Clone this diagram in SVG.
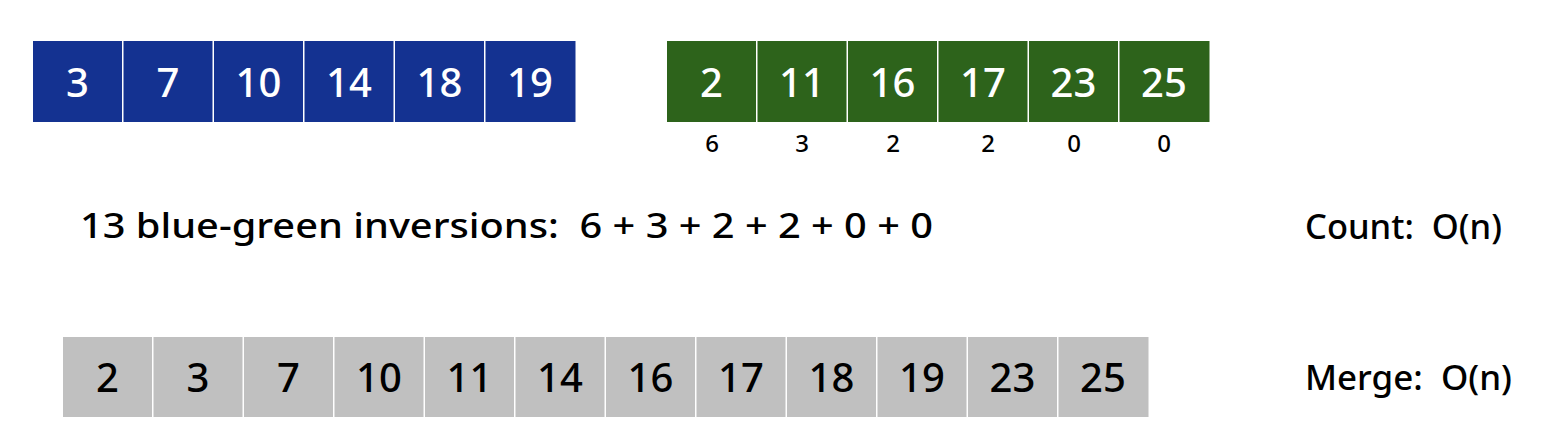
<svg xmlns="http://www.w3.org/2000/svg" width="1548" height="438" viewBox="0 0 1548 438">
<style>
.b{fill:#143291}
.g{fill:#2d631b}
.s{fill:#c0c0c0}
text{font-family:"Noto Sans","DejaVu Sans",sans-serif;font-weight:500}
.w{fill:#fff;font-size:40px;text-anchor:middle}
.k{fill:#000;font-size:40px;text-anchor:middle}
.c{fill:#000;font-size:24px;text-anchor:middle}
.t{fill:#000;font-size:34px}
.r{fill:#000;font-size:34px}
</style>
<rect width="1548" height="438" fill="#fff"/>
<g id="blue">
<rect class="b" x="33" y="41" width="89" height="81"/><text class="w" x="77.5" y="97">3</text>
<rect class="b" x="123.5" y="41" width="89" height="81"/><text class="w" x="168" y="97">7</text>
<rect class="b" x="214" y="41" width="89" height="81"/><text class="w" x="258.5" y="97">10</text>
<rect class="b" x="304.5" y="41" width="89" height="81"/><text class="w" x="349" y="97">14</text>
<rect class="b" x="395" y="41" width="89" height="81"/><text class="w" x="439.5" y="97">18</text>
<rect class="b" x="485.5" y="41" width="90" height="81"/><text class="w" x="530" y="97">19</text>
</g>
<g id="green">
<rect class="g" x="667" y="41" width="89" height="81"/><text class="w" x="711.5" y="97">2</text>
<rect class="g" x="757.5" y="41" width="89" height="81"/><text class="w" x="802" y="97">11</text>
<rect class="g" x="848" y="41" width="89" height="81"/><text class="w" x="892.5" y="97">16</text>
<rect class="g" x="938.5" y="41" width="89" height="81"/><text class="w" x="983" y="97">17</text>
<rect class="g" x="1029" y="41" width="89" height="81"/><text class="w" x="1073.5" y="97">23</text>
<rect class="g" x="1119.5" y="41" width="90" height="81"/><text class="w" x="1164" y="97">25</text>
</g>
<g id="counts">
<text class="c" x="712" y="152">6</text>
<text class="c" x="802" y="152">3</text>
<text class="c" x="893" y="152">2</text>
<text class="c" x="988" y="152">2</text>
<text class="c" x="1074" y="152">0</text>
<text class="c" x="1164" y="152">0</text>
</g>
<g id="inversions">
<text class="t" x="80" y="238" textLength="853" lengthAdjust="spacingAndGlyphs" xml:space="preserve">13 blue-green inversions:  6 + 3 + 2 + 2 + 0 + 0</text>
</g>
<g id="count-label">
<text class="r" x="1305" y="239" textLength="197" lengthAdjust="spacingAndGlyphs" xml:space="preserve">Count:  O(n)</text>
</g>
<g id="merged">
<rect class="s" x="63" y="337" width="89" height="80"/><text class="k" x="107.5" y="392">2</text>
<rect class="s" x="153.5" y="337" width="89" height="80"/><text class="k" x="198" y="392">3</text>
<rect class="s" x="244" y="337" width="89" height="80"/><text class="k" x="288.5" y="392">7</text>
<rect class="s" x="334.5" y="337" width="89" height="80"/><text class="k" x="379" y="392">10</text>
<rect class="s" x="425" y="337" width="89" height="80"/><text class="k" x="469.5" y="392">11</text>
<rect class="s" x="515.5" y="337" width="89" height="80"/><text class="k" x="560" y="392">14</text>
<rect class="s" x="606" y="337" width="89" height="80"/><text class="k" x="650.5" y="392">16</text>
<rect class="s" x="696.5" y="337" width="89" height="80"/><text class="k" x="741" y="392">17</text>
<rect class="s" x="787" y="337" width="89" height="80"/><text class="k" x="831.5" y="392">18</text>
<rect class="s" x="877.5" y="337" width="89" height="80"/><text class="k" x="922" y="392">19</text>
<rect class="s" x="968" y="337" width="89" height="80"/><text class="k" x="1012.5" y="392">23</text>
<rect class="s" x="1058.5" y="337" width="90" height="80"/><text class="k" x="1103" y="392">25</text>
</g>
<g id="merge-label">
<text class="r" x="1305" y="390" textLength="207" lengthAdjust="spacingAndGlyphs" xml:space="preserve">Merge:  O(n)</text>
</g>
</svg>
